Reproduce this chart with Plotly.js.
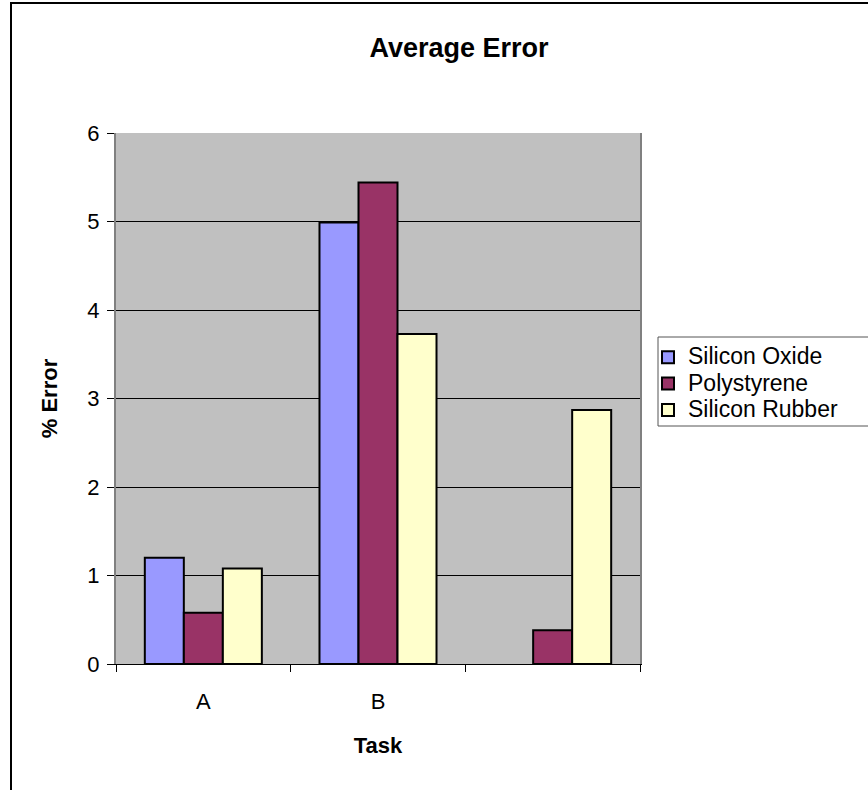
<!DOCTYPE html>
<html>
<head>
<meta charset="utf-8">
<script src="https://cdn.plot.ly/plotly-3.0.1.min.js"></script>
<style>
  html, body { margin: 0; padding: 0; background: #ffffff; }
  #chart { width: 868px; height: 790px; }
</style>
</head>
<body>
<div id="chart"></div>
<script>
// Task categories (the third task carries no label)
const tasks = ['A', 'B', ' '];

// Average % error per material for each task
const siliconOxide = [1.20, 4.99, null];
const polystyrene = [0.58, 5.44, 0.38];
const siliconRubber = [1.08, 3.73, 2.87];

const seriesNames = ['Silicon Oxide', 'Polystyrene', 'Silicon Rubber'];
const seriesColors = ['#9999FF', '#993366', '#FFFFCC'];
const seriesValues = [siliconOxide, polystyrene, siliconRubber];

const yTicks = [0, 1, 2, 3, 4, 5, 6];

const FONT = 'Liberation Sans, Arial, Helvetica, sans-serif';
const LABEL_SIZE = 22;
const LEGEND_TEXT_SIZE = 23;

const traces = seriesValues.map((vals, i) => ({
  type: 'bar',
  name: '<span style="font-size:' + LEGEND_TEXT_SIZE + 'px">' + seriesNames[i] + '</span>',
  x: tasks,
  y: vals,
  marker: { color: seriesColors[i], line: { color: '#000000', width: 2 } },
  hoverinfo: 'x+y'
}));

// Plot area spans pixels 116..640 horizontally and 133..664 vertically
const L = 116, R = 868 - 640, T = 133, B = 790 - 664;
const pw = 868 - L - R, ph = 790 - T - B;
const px = p => (p - L) / pw;
const py = p => (790 - B - p) / ph;

const layout = {
  width: 868,
  height: 790,
  margin: { l: L, r: R, t: T, b: B, pad: 0 },
  paper_bgcolor: '#ffffff',
  plot_bgcolor: '#C0C0C0',
  font: { family: FONT, size: LABEL_SIZE, color: '#000000' },
  title: {
    text: '<b>Average Error</b>',
    font: { family: FONT, size: 27, color: '#000000' },
    x: 459 / 868,
    xref: 'container',
    xanchor: 'center',
    y: 1 - 48 / 790,
    yref: 'container',
    yanchor: 'middle'
  },
  barmode: 'group',
  bargap: 0.33,
  bargroupgap: 0,
  showlegend: true,
  legend: {
    x: px(648),
    y: py(339),
    xanchor: 'left',
    yanchor: 'top',
    bgcolor: 'rgba(0,0,0,0)',
    borderwidth: 0,
    font: { family: FONT, size: 18, color: '#000000' },
    traceorder: 'normal'
  },
  xaxis: {
    type: 'category',
    categoryorder: 'array',
    categoryarray: tasks,
    showline: true,
    linecolor: '#000000',
    linewidth: 1,
    ticks: 'outside',
    tickson: 'boundaries',
    ticklen: 7,
    tickcolor: '#000000',
    tickwidth: 1,
    ticklabelstandoff: 18,
    showgrid: false,
    tickfont: { family: FONT, size: LABEL_SIZE },
    title: { text: '<b>Task</b>', font: { family: FONT, size: LABEL_SIZE }, standoff: 24 },
    fixedrange: true
  },
  yaxis: {
    range: [0, 6],
    tickvals: yTicks,
    ticktext: yTicks.map(String),
    showline: true,
    mirror: true,
    linecolor: '#808080',
    linewidth: 2,
    ticks: 'outside',
    ticklen: 7,
    tickcolor: '#000000',
    tickwidth: 1,
    ticklabelstandoff: 3,
    showgrid: true,
    gridcolor: '#000000',
    gridwidth: 1,
    zeroline: false,
    tickfont: { family: FONT, size: LABEL_SIZE },
    title: { text: '<b>% Error</b>', font: { family: FONT, size: LABEL_SIZE }, standoff: 24 },
    fixedrange: true
  },
  shapes: [
    // outer chart frame
    {
      type: 'rect', xref: 'paper', yref: 'paper',
      x0: px(11), x1: px(900), y0: py(820), y1: py(3),
      line: { color: '#000000', width: 2 }, fillcolor: 'rgba(0,0,0,0)', layer: 'below'
    },
    // legend frame
    {
      type: 'rect', xref: 'paper', yref: 'paper',
      x0: px(658), x1: px(900), y0: py(426), y1: py(337),
      line: { color: '#555555', width: 1 }, fillcolor: '#ffffff', layer: 'below'
    }
  ]
};

Plotly.newPlot('chart', traces, layout, { displayModeBar: false, staticPlot: true });
</script>
</body>
</html>
